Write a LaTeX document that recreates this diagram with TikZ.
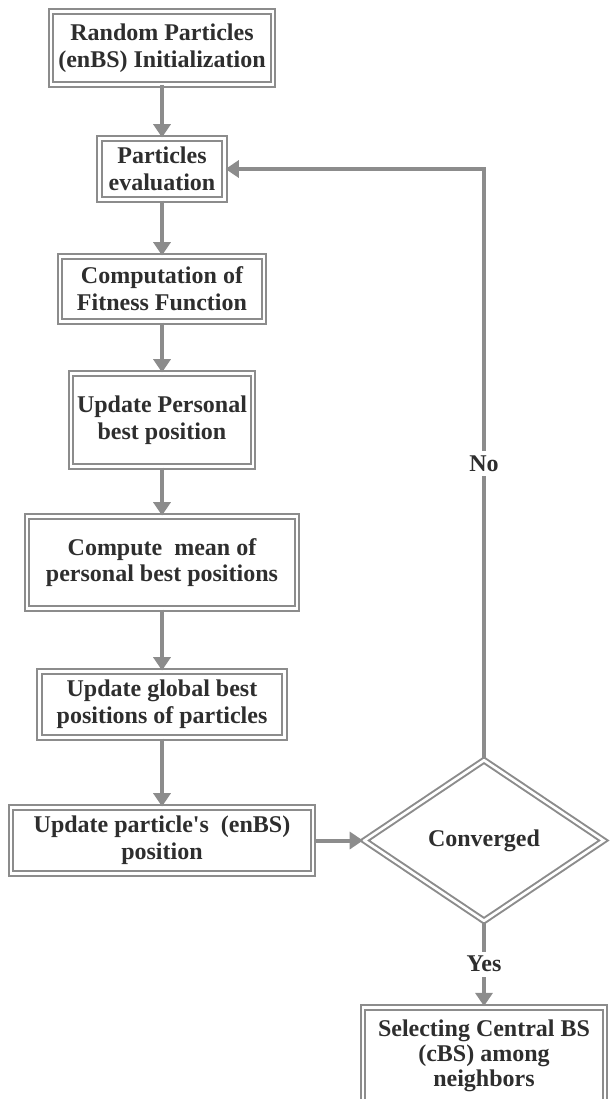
\documentclass[tikz,border=0pt]{standalone}
\usepackage{fontspec}
\setmainfont{Liberation Serif}
\usetikzlibrary{arrows.meta, positioning, shapes.geometric}
\definecolor{linegray}{HTML}{8C8C8C}
\definecolor{textgray}{HTML}{2E2E2E}

\begin{document}
\begin{tikzpicture}[node distance=40pt and 36.75pt,
    every node/.style={font=\fontsize{18}{20}\selectfont\bfseries, text=textgray, align=center},
    box/.style={rectangle, draw=linegray, line width=1.5pt, double=white, double distance=2pt, inner sep=0pt},
    decision/.style={diamond, draw=linegray, line width=1.5pt, double=white, double distance=2pt, inner sep=0pt, aspect=1.6},
    flow/.style={draw=linegray, line width=3pt, -{Triangle[length=10pt,width=12.75pt]}},
    back/.style={draw=linegray, line width=2.5pt, -{Triangle[length=10pt,width=12.75pt]}}]
        \useasboundingbox (0,0) rectangle (458.25pt,-824.25pt);
        \clip (0,0) rectangle (458.25pt,-824.25pt);
        \node[box, minimum width=166.5pt, minimum height=54.75pt] (A) at (121.5pt,-36pt) {Random Particles\\(enBS) Initialization};
        \node[box, minimum width=93.75pt, minimum height=45.75pt, below=39pt of A] (B) {Particles\\evaluation};
        \node[box, minimum width=153pt, minimum height=48.75pt, below=41.25pt of B] (C) {Computation of\\Fitness Function};
        \node[box, minimum width=136.5pt, minimum height=69.75pt, below=37.5pt of C] (D) {Update Personal\\best position};
        \node[box, minimum width=202.5pt, minimum height=69pt, below=36pt of D] (E) {Compute\ \ mean of\\personal best positions};
        \node[box, minimum width=183.75pt, minimum height=49.5pt, below=45.75pt of E] (F) {Update global best\\positions of particles};
        \node[box, minimum width=226.5pt, minimum height=49.5pt, below=51pt of F] (G) {Update particle\textquotesingle s\ \ (enBS)\\position};
        \node[decision, minimum width=180pt, minimum height=121pt, right=of G] (H) {Converged};
        \node[box, minimum width=181.5pt, minimum height=73pt, below=63pt of H, font=\fontsize{18}{18.5}\selectfont\bfseries] (I) {Selecting Central BS\\(cBS) among\\neighbors};

        \draw[flow] (A) -- (B);
        \draw[flow] (B) -- (C);
        \draw[flow] (C) -- (D);
        \draw[flow] (D) -- (E);
        \draw[flow] (E) -- (F);
        \draw[flow] (F) -- (G);
        \draw[flow] (G) -- (H);
        \draw[back] (H) |- node[pos=0.25, fill=white] {No} (B);
        \draw[back] (H) -- node[fill=white] {Yes} (I);
    \end{tikzpicture}
\end{document}
